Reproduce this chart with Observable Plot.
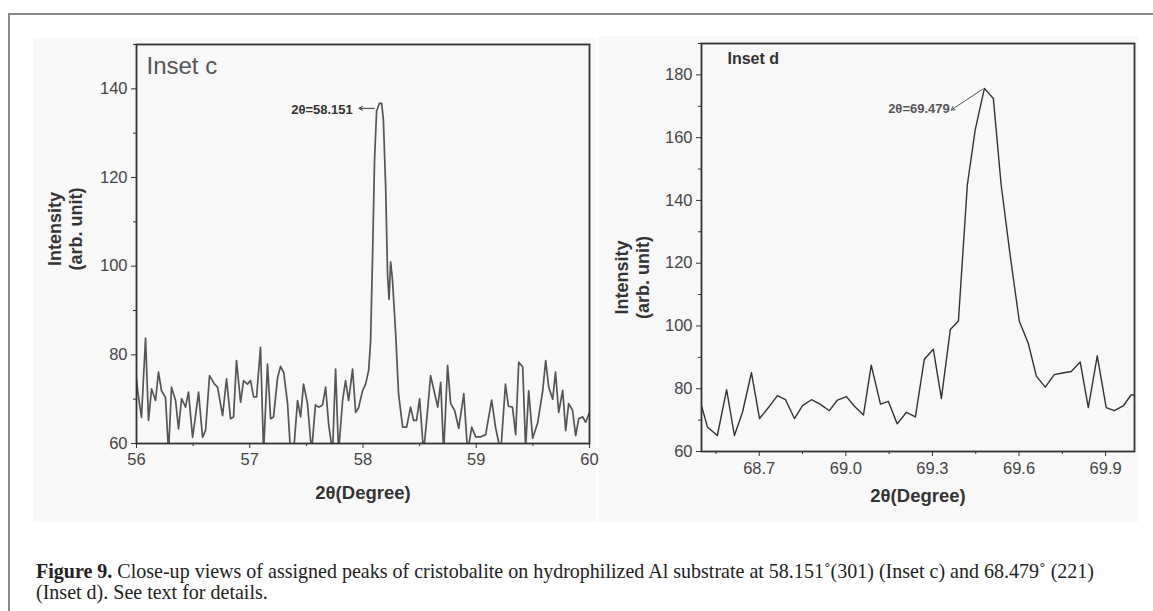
<!DOCTYPE html>
<html>
<head>
<meta charset="utf-8">
<script src="https://cdn.jsdelivr.net/npm/d3@7"></script>
<script src="https://cdn.jsdelivr.net/npm/@observablehq/plot@0.6"></script>
<style>
  body { margin: 0; background: #fff; }
  #page { position: relative; width: 1153px; height: 611px; overflow: hidden; background: #fff; }
  .rule-top { position: absolute; left: 8px; top: 13px; right: 0; border-top: 2px solid #8c8c8c; }
  .rule-left { position: absolute; left: 8px; top: 13px; bottom: 0; border-left: 2px solid #8c8c8c; }
  .bg { position: absolute; background: #f8f8f8; }
  #left { position: absolute; left: 0; top: 0; }
  #right { position: absolute; left: 560px; top: 0; }
  #caption { position: absolute; left: 36px; top: 561px; font-family: "Liberation Serif", "Times New Roman", serif;
             font-size: 18.5px; line-height: 21px; color: #222; white-space: nowrap; }
</style>
</head>
<body>
<div id="page">
  <div class="rule-top"></div>
  <div class="rule-left"></div>
  <div class="bg" style="left:33px;top:38px;width:563px;height:484px"></div>
  <div class="bg" style="left:598px;top:36px;width:540px;height:486px"></div>
  <div id="left"></div>
  <div id="right"></div>
  <div id="caption"><span id="cap1"><b>Figure 9.</b> Close-up views of assigned peaks of cristobalite on hydrophilized Al substrate at 58.151˚(301) (Inset c) and 68.479˚ (221)</span><br><span id="cap2">(Inset d). See text for details.</span></div>
</div>
<script>
// ---------- Inset c data (2θ in degrees, intensity in arb. unit) ----------
const leftTheta = [56.00, 56.01, 56.044, 56.08, 56.106, 56.133, 56.168, 56.194, 56.221, 56.256,
  56.283, 56.309, 56.345, 56.371, 56.398, 56.433, 56.459, 56.495, 56.52, 56.548,
  56.583, 56.61, 56.645, 56.689, 56.716, 56.76, 56.795, 56.83, 56.857, 56.883,
  56.919, 56.945, 56.98, 57.007, 57.034, 57.06, 57.095, 57.122, 57.157, 57.184,
  57.21, 57.246, 57.272, 57.3, 57.334, 57.36, 57.387, 57.422, 57.449, 57.475,
  57.51, 57.546, 57.58, 57.608, 57.643, 57.67, 57.696, 57.731, 57.758, 57.784,
  57.82, 57.846, 57.873, 57.908, 57.935, 57.96, 57.996, 58.023, 58.05, 58.067,
  58.085, 58.102, 58.12, 58.145, 58.165, 58.18, 58.2, 58.217, 58.23, 58.244,
  58.26, 58.288, 58.314, 58.35, 58.385, 58.42, 58.447, 58.473, 58.5, 58.535,
  58.57, 58.597, 58.624, 58.66, 58.686, 58.712, 58.747, 58.774, 58.81, 58.845,
  58.89, 58.924, 58.96, 58.995, 59.04, 59.083, 59.136, 59.17, 59.216, 59.258,
  59.284, 59.32, 59.348, 59.375, 59.41, 59.436, 59.463, 59.498, 59.542, 59.587,
  59.613, 59.64, 59.675, 59.7, 59.728, 59.763, 59.79, 59.816, 59.85, 59.878,
  59.905, 59.94, 59.966, 60.0];
const leftIntensity = [74.5, 71.9, 65.9, 83.8, 65.2, 72.3, 69.7, 76.1, 71.9, 70.4,
  58, 72.7, 69.7, 63.3, 70.1, 68.2, 71.6, 61.4, 66, 71.6,
  61.4, 63, 75.3, 73.4, 72.7, 66.3, 74.6, 65.6, 66, 78.7,
  69.3, 74.2, 73.4, 74.2, 70.5, 70.5, 81.7, 58, 77.9, 65.6,
  66, 74.9, 77.4, 76, 69, 58, 58, 69.7, 66, 73.4,
  69, 58, 68.7, 68.2, 68.7, 72.7, 64.5, 58, 76.8, 58,
  69.7, 74.2, 69.7, 76.8, 67, 68, 71.9, 73.4, 76.5, 83,
  103, 124, 135, 136.7, 136.7, 133, 118, 98, 92.5, 101,
  97, 85, 71.2, 63.7, 63.7, 68.2, 65.2, 65.2, 70.1, 58,
  67.4, 75.3, 72.3, 68.2, 73.8, 58, 77.6, 69, 67.4, 63.4,
  71.2, 58, 63.7, 61.5, 61.5, 62, 69.8, 63.7, 58, 73.4,
  68.4, 68.2, 62, 78.3, 77.3, 59, 71.9, 61.2, 64.6, 71.9,
  78.7, 72.7, 70, 76.1, 67, 72, 62.9, 69, 67.5, 61.8,
  65.6, 66, 64.8, 67];

// ---------- Inset d data ----------
const rightTheta = [68.500, 68.521, 68.555, 68.587, 68.614, 68.642, 68.673, 68.701, 68.732, 68.763,
  68.791, 68.822, 68.850, 68.881, 68.912, 68.943, 68.971, 69.002, 69.030, 69.061,
  69.088, 69.120, 69.147, 69.178, 69.210, 69.241, 69.272, 69.303, 69.331, 69.362,
  69.390, 69.421, 69.448, 69.480, 69.511, 69.538, 69.570, 69.601, 69.632, 69.660,
  69.691, 69.722, 69.750, 69.781, 69.812, 69.840, 69.871, 69.902, 69.930, 69.961,
  69.988, 70.000];
const rightIntensity = [74.6, 67.7, 65.1, 79.7, 65.1, 72.5, 85.1, 70.5, 74, 77.8,
  76.5, 70.5, 74.6, 76.5, 75, 73, 76.4, 77.5, 74.4, 71.6,
  87.5, 75.1, 76, 68.8, 72.5, 71, 89.4, 92.6, 76.9, 98.9,
  101.6, 145, 162.4, 175.7, 172.5, 145, 122, 101.5, 94.5, 84,
  80.5, 84.5, 85, 85.5, 88.5, 74, 90.5, 74, 73, 74.5,
  78, 78];

// ---------- Axis ticks ----------
const leftYTicks = [60, 80, 100, 120, 140];
const leftYMinor = [70, 90, 110, 130, 150];
const leftXTicks = [56, 57, 58, 59, 60];
const leftXMinor = [56.5, 57.5, 58.5, 59.5];
const rightYTicks = [60, 80, 100, 120, 140, 160, 180];
const rightYMinor = [70, 90, 110, 130, 150, 170, 190];
const rightXTicks = [68.7, 69.0, 69.3, 69.6, 69.9];
const rightXMinor = [68.55, 68.85, 69.15, 69.45, 69.75];

// ---------- Texts ----------
const xTitle = "2θ(Degree)";
const yTitle = "Intensity\n(arb. unit)";
const leftInset = "Inset c";
const rightInset = "Inset d";
const leftPeakLabel = "2θ=58.151";
const rightPeakLabel = "2θ=69.479";

const leftData = leftTheta.map((t, i) => ({theta: t, intensity: leftIntensity[i]}));
const rightData = rightTheta.map((t, i) => ({theta: t, intensity: rightIntensity[i]}));

const baseStyle = {fontFamily: "'Liberation Sans', Arial, sans-serif", fontSize: "16.5px", color: "#444",
                   background: "transparent", overflow: "visible"};

const left = Plot.plot({
  width: 600, height: 530,
  marginLeft: 136, marginRight: 11, marginTop: 44, marginBottom: 87,
  x: {domain: [56, 60]},
  y: {domain: [60, 150]},
  style: baseStyle,
  marks: [
    Plot.axisY(leftYTicks, {tickSize: 5, tickPadding: 4, label: null, stroke: "#333"}),
    Plot.axisY(leftYMinor, {tickSize: 3, text: null, label: null, stroke: "#333"}),
    Plot.axisX(leftXTicks, {tickSize: 5, tickPadding: 5, label: null, stroke: "#333", tickFormat: d3.format("d")}),
    Plot.axisX(leftXMinor, {tickSize: 3, text: null, label: null, stroke: "#333"}),
    Plot.line(leftData, {x: "theta", y: "intensity", stroke: "#555", strokeWidth: 1.7, clip: true}),
    Plot.frame({stroke: "#333", strokeWidth: 1.8}),
    Plot.text([leftInset], {frameAnchor: "top-left", dx: 10, dy: 12, textAnchor: "start", lineAnchor: "top",
      fontSize: 24, fill: "#555"}),
    Plot.text([leftPeakLabel], {x: () => 57.91, y: () => 135.2, textAnchor: "end", fontWeight: "bold",
      fontSize: 13, fill: "#333"}),
    Plot.arrow([0], {x1: () => 58.10, y1: () => 135.6, x2: () => 57.965, y2: () => 135.6,
      stroke: "#333", strokeWidth: 1, headLength: 6}),
    Plot.text([xTitle], {frameAnchor: "bottom", dy: 55, fontWeight: "bold", fontSize: 18.5, fill: "#333"}),
    Plot.text([yTitle], {frameAnchor: "left", dx: -72, dy: -15, rotate: -90, textAnchor: "middle",
      lineAnchor: "middle", lineHeight: 1.2, fontWeight: "bold", fontSize: 18, fill: "#333"})
  ]
});
document.getElementById("left").appendChild(left);

const right = Plot.plot({
  width: 590, height: 530,
  marginLeft: 141, marginRight: 16, marginTop: 43, marginBottom: 79,
  x: {domain: [68.5, 70.0]},
  y: {domain: [60, 190]},
  style: baseStyle,
  marks: [
    Plot.axisY(rightYTicks, {tickSize: 5, tickPadding: 4, label: null, stroke: "#333"}),
    Plot.axisY(rightYMinor, {tickSize: 3, text: null, label: null, stroke: "#333"}),
    Plot.axisX(rightXTicks, {tickSize: 5, tickPadding: 6, label: null, stroke: "#333", tickFormat: d3.format(".1f")}),
    Plot.axisX(rightXMinor, {tickSize: 3, text: null, label: null, stroke: "#333"}),
    Plot.line(rightData, {x: "theta", y: "intensity", stroke: "#333", strokeWidth: 1.4, clip: true}),
    Plot.frame({stroke: "#333", strokeWidth: 1.8}),
    Plot.text([rightInset], {frameAnchor: "top-left", dx: 26, dy: 9, textAnchor: "start", lineAnchor: "top",
      fontSize: 16, fontWeight: "bold", fill: "#333"}),
    Plot.text([rightPeakLabel], {x: () => 69.36, y: () => 169.3, textAnchor: "end", fontWeight: "bold",
      fontSize: 13, fill: "#555"}),
    Plot.arrow([0], {x1: () => 69.473, y1: () => 175.4, x2: () => 69.365, y2: () => 168.8,
      stroke: "#555", strokeWidth: 1, headLength: 6}),
    Plot.text([xTitle], {frameAnchor: "bottom", dy: 50, fontWeight: "bold", fontSize: 18.5, fill: "#333"}),
    Plot.text([yTitle], {frameAnchor: "left", dx: -70, dy: 30, rotate: -90, textAnchor: "middle",
      lineAnchor: "middle", lineHeight: 1.2, fontWeight: "bold", fontSize: 18, fill: "#333"})
  ]
});
document.getElementById("right").appendChild(right);

// Fit the first caption line to the reference width (about 1058 px) by scaling the font size.
const caption = document.getElementById("caption");
const cap1 = document.getElementById("cap1");
const targetWidth = 1058;
const w0 = cap1.getBoundingClientRect().width;
const newSize = 18.5 * targetWidth / w0;
caption.style.fontSize = newSize.toFixed(2) + "px";
caption.style.top = (572 - 10.5 - (newSize - 18.5) * 0.1).toFixed(1) + "px";
</script>
</body>
</html>
